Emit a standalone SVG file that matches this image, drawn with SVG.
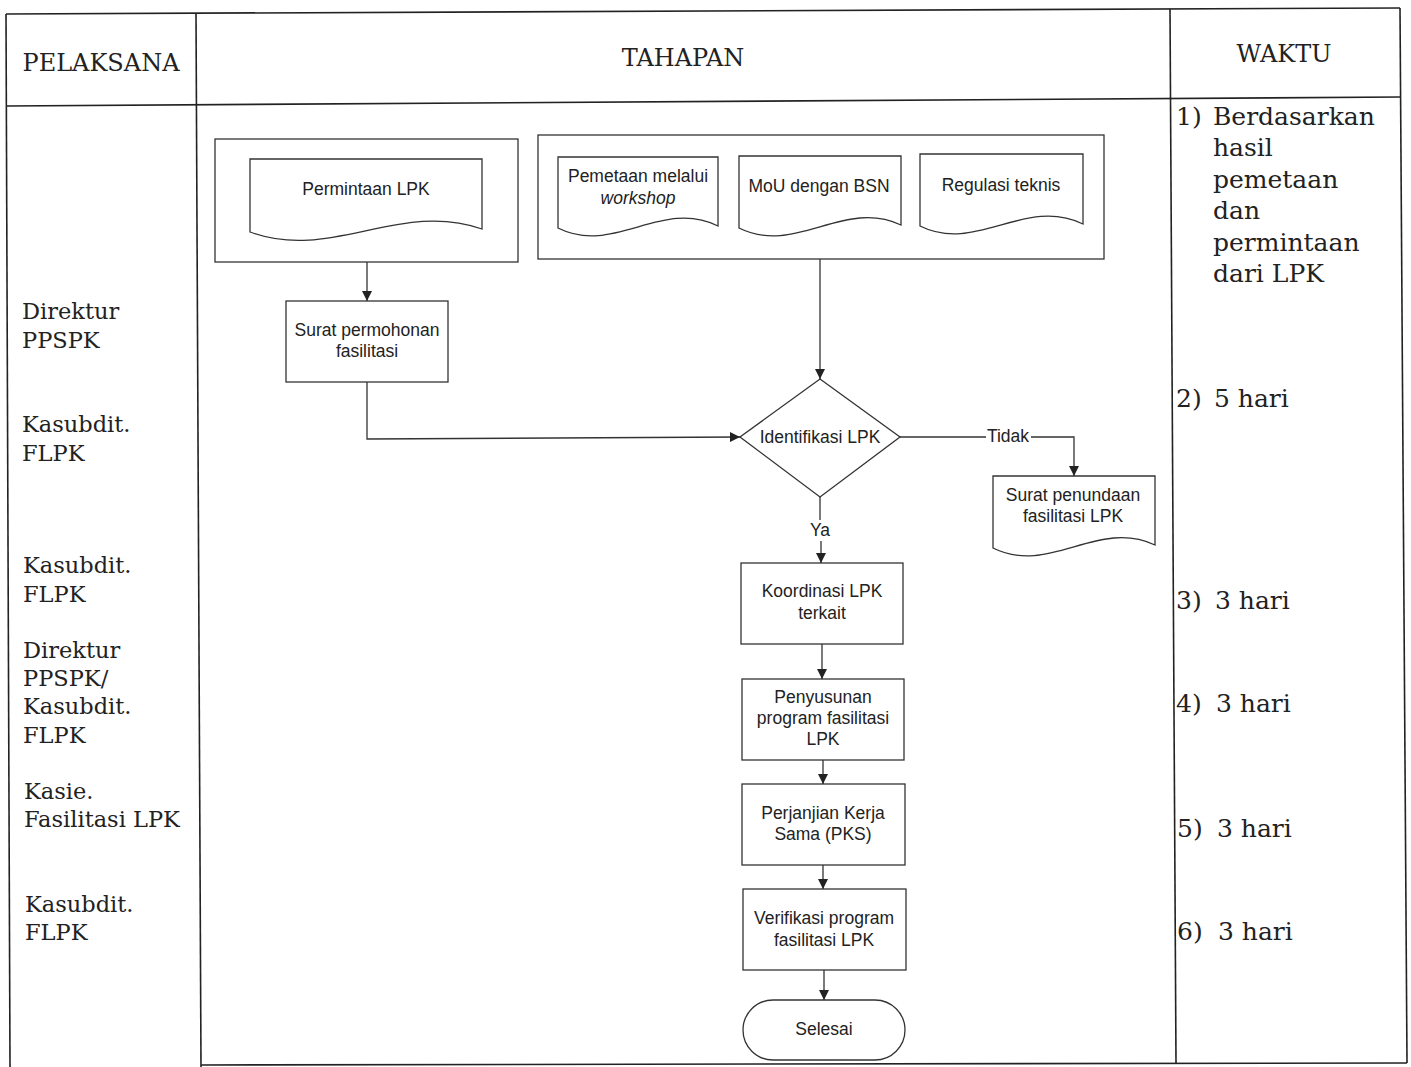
<svg xmlns="http://www.w3.org/2000/svg" width="1411" height="1067" viewBox="0 0 1411 1067">
<defs>
<style>
.tbl{stroke:#222;stroke-width:1.6;fill:none}
.hd{font-family:"DejaVu Serif",serif;font-size:24px;fill:#222}
.lc{font-family:"DejaVu Serif",serif;font-size:22.5px;fill:#222}
.rc{font-family:"DejaVu Serif",serif;font-size:25px;fill:#222}
.sh{fill:#fff;stroke:#333;stroke-width:1.3}
.t{font-family:"Liberation Sans",Arial,sans-serif;font-size:17.5px;fill:#222;text-anchor:middle}
.cn{stroke:#333;stroke-width:1.3;fill:none}
</style>
<marker id="ah" viewBox="0 0 10 10" refX="10" refY="5" markerWidth="10" markerHeight="10" markerUnits="userSpaceOnUse" orient="auto">
<path d="M0,0 L10,5 L0,10 Z" fill="#222"/>
</marker>
</defs>
<rect width="1411" height="1067" fill="#fff"/>
<g id="table">
<line class="tbl" x1="6" y1="14" x2="1400" y2="8"/>
<line class="tbl" x1="6" y1="106" x2="1400" y2="97"/>
<line class="tbl" x1="6" y1="14" x2="10" y2="1067"/>
<line class="tbl" x1="196" y1="13" x2="201" y2="1067"/>
<line class="tbl" x1="1170" y1="9" x2="1176" y2="1063"/>
<line class="tbl" x1="1400" y1="8" x2="1407" y2="1063"/>
<line class="tbl" x1="201" y1="1065" x2="1407" y2="1063"/>
<text class="hd" x="101" y="71" text-anchor="middle">PELAKSANA</text>
<text class="hd" x="683" y="66" text-anchor="middle">TAHAPAN</text>
<text class="hd" x="1284" y="62" text-anchor="middle">WAKTU</text>
</g>
<g id="pelaksana">
<text class="lc" x="22" y="319">Direktur</text>
<text class="lc" x="22" y="348">PPSPK</text>
<text class="lc" x="22" y="432">Kasubdit.</text>
<text class="lc" x="22" y="461">FLPK</text>
<text class="lc" x="23" y="573">Kasubdit.</text>
<text class="lc" x="23" y="602">FLPK</text>
<text class="lc" x="23" y="658">Direktur</text>
<text class="lc" x="23" y="686">PPSPK/</text>
<text class="lc" x="23" y="714">Kasubdit.</text>
<text class="lc" x="23" y="743">FLPK</text>
<text class="lc" x="24" y="799">Kasie.</text>
<text class="lc" x="24" y="827">Fasilitasi LPK</text>
<text class="lc" x="25" y="912">Kasubdit.</text>
<text class="lc" x="25" y="940">FLPK</text>
</g>
<g id="waktu">
<text class="rc" x="1176" y="125">1)</text>
<text class="rc" x="1213" y="125">Berdasarkan</text>
<text class="rc" x="1213" y="156">hasil</text>
<text class="rc" x="1213" y="188">pemetaan</text>
<text class="rc" x="1213" y="219">dan</text>
<text class="rc" x="1213" y="251">permintaan</text>
<text class="rc" x="1213" y="282">dari LPK</text>
<text class="rc" x="1176" y="407">2)</text>
<text class="rc" x="1214" y="407">5 hari</text>
<text class="rc" x="1176" y="609">3)</text>
<text class="rc" x="1215" y="609">3 hari</text>
<text class="rc" x="1176" y="712">4)</text>
<text class="rc" x="1216" y="712">3 hari</text>
<text class="rc" x="1177" y="837">5)</text>
<text class="rc" x="1217" y="837">3 hari</text>
<text class="rc" x="1177" y="940">6)</text>
<text class="rc" x="1218" y="940">3 hari</text>
</g>
<g id="group-permintaan">
<rect class="sh" x="215" y="139" width="303" height="123"/>
</g>
<g id="group-pemetaan">
<rect class="sh" x="538" y="135" width="566" height="124"/>
</g>
<g id="doc-permintaan">
<path class="sh" d="M250,159 H482 V229 C400,200 330,262 250,232 Z"/>
<text class="t" x="366" y="195">Permintaan LPK</text>
</g>
<g id="doc-pemetaan">
<path class="sh" d="M558,157 H718 V226 C662,198 613,256 558,228 Z"/>
<text class="t" x="638" y="182">Pemetaan melalui</text>
<text class="t" x="638" y="204" font-style="italic">workshop</text>
</g>
<g id="doc-mou">
<path class="sh" d="M739,156 H901 V225 C844,198 795,256 739,228 Z"/>
<text class="t" x="819" y="192">MoU dengan BSN</text>
</g>
<g id="doc-regulasi">
<path class="sh" d="M920,154 H1083 V224 C1025,196 976,254 920,226 Z"/>
<text class="t" x="1001" y="191">Regulasi teknis</text>
</g>
<g id="surat-permohonan">
<rect class="sh" x="286" y="301" width="162" height="81"/>
<text class="t" x="367" y="336">Surat permohonan</text>
<text class="t" x="367" y="357">fasilitasi</text>
</g>
<g id="identifikasi">
<path class="sh" d="M820,379 L900,437 L820,497 L740,437 Z"/>
<text class="t" x="820" y="443">Identifikasi LPK</text>
</g>
<g id="surat-penundaan">
<path class="sh" d="M993,476 H1155 V545 C1098,518 1049,576 993,548 Z"/>
<text class="t" x="1073" y="501">Surat penundaan</text>
<text class="t" x="1073" y="522">fasilitasi LPK</text>
</g>
<g id="koordinasi">
<rect class="sh" x="741" y="563" width="162" height="81"/>
<text class="t" x="822" y="597">Koordinasi LPK</text>
<text class="t" x="822" y="619">terkait</text>
</g>
<g id="penyusunan">
<rect class="sh" x="742" y="679" width="162" height="81"/>
<text class="t" x="823" y="703">Penyusunan</text>
<text class="t" x="823" y="724">program fasilitasi</text>
<text class="t" x="823" y="745">LPK</text>
</g>
<g id="pks">
<rect class="sh" x="742" y="784" width="163" height="81"/>
<text class="t" x="823" y="819">Perjanjian Kerja</text>
<text class="t" x="823" y="840">Sama (PKS)</text>
</g>
<g id="verifikasi">
<rect class="sh" x="743" y="889" width="163" height="81"/>
<text class="t" x="824" y="924">Verifikasi program</text>
<text class="t" x="824" y="946">fasilitasi LPK</text>
</g>
<g id="selesai">
<rect class="sh" x="743" y="1000" width="162" height="60" rx="30" ry="30"/>
<text class="t" x="824" y="1035">Selesai</text>
</g>
<g id="connectors">
<line class="cn" x1="367" y1="262" x2="367" y2="301" marker-end="url(#ah)"/>
<polyline class="cn" points="367,382 367,439 740,437" marker-end="url(#ah)"/>
<line class="cn" x1="820" y1="259" x2="820" y2="379" marker-end="url(#ah)"/>
<line class="cn" x1="900" y1="437" x2="986" y2="437"/>
<polyline class="cn" points="1031,437 1074,437 1074,476" marker-end="url(#ah)"/>
<text class="t" x="1008" y="442" font-size="16">Tidak</text>
<line class="cn" x1="820" y1="497" x2="820" y2="520"/>
<line class="cn" x1="821" y1="541" x2="821" y2="563" marker-end="url(#ah)"/>
<text class="t" x="820" y="536" font-size="16">Ya</text>
<line class="cn" x1="822" y1="644" x2="822" y2="679" marker-end="url(#ah)"/>
<line class="cn" x1="823" y1="760" x2="823" y2="784" marker-end="url(#ah)"/>
<line class="cn" x1="823" y1="865" x2="823" y2="889" marker-end="url(#ah)"/>
<line class="cn" x1="824" y1="970" x2="824" y2="1000" marker-end="url(#ah)"/>
</g>
</svg>
